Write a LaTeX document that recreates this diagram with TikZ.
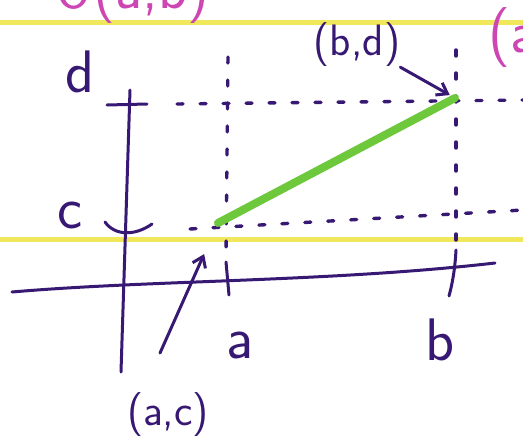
\documentclass[tikz,border=0pt]{standalone}
\usepackage{fontspec}
\usepackage{xcolor}
\usepackage{tikz}
\usetikzlibrary{arrows.meta,positioning,calc}
\definecolor{penblue}{RGB}{55,25,115}
\definecolor{pengreen}{RGB}{110,200,60}
\definecolor{hiyellow}{RGB}{240,232,90}
\definecolor{penpink}{RGB}{205,70,180}

\begin{document}
\begin{tikzpicture}[
  x=1pt, y=-1pt,
  pen/.style={draw=penblue, line width=3pt, line cap=round, line join=round},
  guide/.style={draw=penblue, line width=3.4pt, line cap=round, dash pattern=on 6pt off 17pt},
  lab/.style={text=penblue, font=\sffamily\fontsize{44}{44}\selectfont, inner sep=0pt},
  biglab/.style={lab, font=\sffamily\fontsize{60}{60}\selectfont},
  pinklab/.style={text=penpink, font=\sffamily\fontsize{60}{60}\selectfont, inner sep=0pt},
  rule/.style={draw=hiyellow, line width=5pt}
]
  \useasboundingbox (0,0) rectangle (523,445);
  \clip (0,0) rectangle (523,445);

  % ruled paper
  \draw[rule] (0,22) -- (523,22);
  \draw[rule] (0,239) -- (523,239);

  % end points
  \coordinate (A) at (218,223);
  \coordinate (B) at (455,98);
  \coordinate (ytop) at (130,90);
  \coordinate (ybot) at (121,372);
  \coordinate (xl) at (12,292);
  \coordinate (xr) at (495,263);
  \coordinate (actail) at (160,353);

  % axes
  \draw[pen] (ytop) -- (ybot);
  \draw[pen] (xl) .. controls (150,280) and (330,282) .. (xr);

  % ticks
  \draw[pen] (107,105) -- (147,104);
  \draw[pen] (105,222) .. controls (115,236) and (135,236) .. (152,224);
  \draw[pen] (226,262) -- (229,295);
  \draw[pen] (456,250) .. controls (455,270) and (452,285) .. (449,296);

  % guide lines
  \draw[guide] (177,104) -- (523,100);
  \draw[guide] (190,229) -- (523,210);
  \draw[guide] (228,57) -- (226,252);
  \draw[guide] (456,50) -- (456,242);

  % segment
  \draw[draw=pengreen, line width=8pt, line cap=round] (A) -- (B);

  % labels
  \node[biglab] (dlab) at (80,72) {d};
  \node[biglab] (clab) at (70,215) {c};
  \node[biglab] (alab) at (240,345) {a};
  \node[biglab] (blab) at (440,340) {b};
  \node[lab] (bdlab) at (357,45) {(b,d)};
  \node[lab] (aclab) at (168,415) {(a,c)};
  \node[pinklab, anchor=west] (toplab) at (488,38) {(a,};
  \node[pinklab] (titlelab) at (132,-6) {U(a,b)};

  % pointers
  \draw[pen, -{Straight Barb[length=10pt, width=14pt]}, shorten >=6pt] (bdlab.south east) -- (B);
  \draw[pen, -{Straight Barb[length=10pt, width=14pt]}, shorten >=34pt] (actail) -- (A);
\end{tikzpicture}
\end{document}
